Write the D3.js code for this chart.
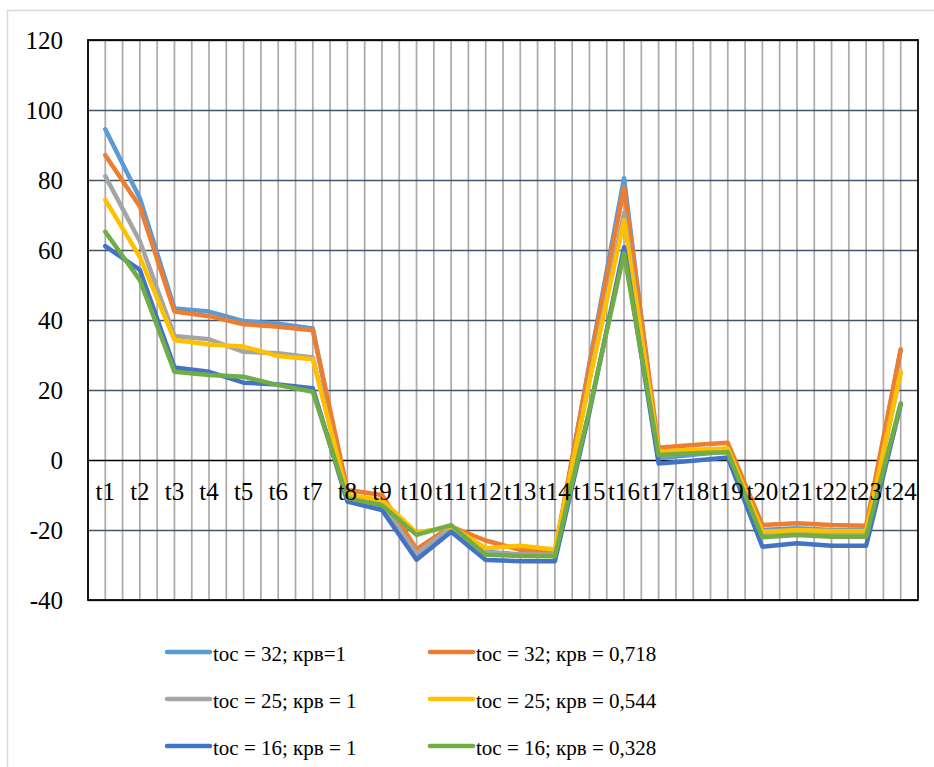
<!DOCTYPE html>
<html>
<head>
<meta charset="utf-8">
<script src="https://cdn.jsdelivr.net/npm/d3@7"></script>
<style>
  body { margin: 0; background: #fff; font-family: 'Liberation Serif', serif; }
  svg text { font-family: 'Liberation Serif', serif !important; }
  #fontwarm { position: absolute; left: 0; top: 0; font-size: 2px; color: #fff; }
</style>
</head>
<body>
<div id="fontwarm">toc крв t10</div>
<div id="chart"></div>
<script>
w = 934;			// page width
h = 767;			// page height
left = 88;			// plot area
top_ = 40;
right = 918;
bottom = 600;
fontName = "'Liberation Serif'";

// categories along x
categories = ['t1','t2','t3','t4','t5','t6','t7','t8','t9','t10','t11','t12',
              't13','t14','t15','t16','t17','t18','t19','t20','t21','t22','t23','t24'];

yTicks = [-40, -20, 0, 20, 40, 60, 80, 100, 120];

// series values
s32_1 = [94.5, 74.8, 43.3, 42.4, 39.7, 38.9, 37.6, -10.5, -13, -27.5, -19.5, -26.2,
         -27, -27.2, 27.5, 80.5, 0.5, 1.5, 2.5, -20, -19.5, -20, -20, 31.5];
s32_0718 = [87.1, 72.4, 42.4, 41.1, 38.8, 38.1, 37.1, -8.6, -10, -25.5, -19, -23,
            -25.7, -26.2, 27, 77.8, 3.5, 4.3, 4.9, -18.6, -18.1, -18.6, -18.8, 31.6];
s25_1 = [81.1, 62.5, 35.4, 34.5, 30.9, 30.5, 29.3, -10.3, -12.5, -26.7, -19.3, -26.5,
         -27, -27, 23, 70.6, 1.2, 2.2, 3, -21, -20.5, -21, -21, 25];
s25_0544 = [74.3, 58, 34.3, 33.0, 32.4, 29.7, 28.8, -10, -11.4, -20.8, -19, -25.2,
            -24.5, -25.6, 22.5, 68.5, 2.4, 2.9, 3.3, -20.5, -20, -20.3, -20.3, 25.2];
s16_1 = [61.1, 54.3, 26.4, 25.2, 22.1, 21.6, 20.5, -11.9, -14.3, -28.5, -20.5, -28.6,
         -28.9, -28.9, 13.7, 60.8, -1, -0.2, 0.7, -24.8, -23.8, -24.5, -24.5, 15.8];
s16_0328 = [65.2, 51.4, 25.2, 24.3, 23.8, 21.4, 19.5, -10.9, -12.9, -21.4, -18.6, -27.1,
            -27.4, -27.5, 14.5, 59, 1.4, 1.9, 2.2, -22.1, -21.4, -21.9, -21.9, 16.2];

seriesNames = ['toc = 32; крв=1', 'toc = 32; крв = 0,718', 'toc = 25; крв = 1',
               'toc = 25; крв = 0,544', 'toc = 16; крв = 1', 'toc = 16; крв = 0,328'];
seriesValues = [s32_1, s32_0718, s25_1, s25_0544, s16_1, s16_0328];
seriesColors = ['#5B9BD5', '#ED7D31', '#A5A5A5', '#FFC000', '#4472C4', '#70AD47'];

var svg = d3.select("#chart").append("svg")
	.attr("width", w)
	.attr("height", h)
	.style("font-family", fontName);

// outer chart frame (runs off the right and bottom)
svg.append("rect")
	.attr("x", 7.5).attr("y", 10.5)
	.attr("width", w).attr("height", h + 50)
	.attr("fill", "none")
	.attr("stroke", "#d9d9d9")
	.attr("stroke-width", 1.5);

xScale = d3.scaleBand()
	.domain(categories)
	.range([left, right])
	.padding(0);
bw = xScale.bandwidth();

yScale = d3.scaleLinear()
	.domain([-40, 120])
	.range([bottom, top_]);

// vertical grid: band edges and band centres
var vgrid = [];
categories.forEach(function(c) { vgrid.push(xScale(c)); vgrid.push(xScale(c) + bw / 2); });
svg.append("g").selectAll("line").data(vgrid).enter()
	.append("line")
	.attr("x1", function(d) { return d; })
	.attr("x2", function(d) { return d; })
	.attr("y1", top_).attr("y2", bottom)
	.attr("stroke", "#aeabab")
	.attr("stroke-width", 1.75);

// horizontal grid + y labels
yAxis = d3.axisLeft(yScale)
	.tickValues(yTicks)
	.tickFormat(function(d) { return String(d); })
	.tickSize(-(right - left))
	.tickPadding(25);
yAxisG = svg.append("g")
	.attr("transform", "translate(" + left + ",0)")
	.call(yAxis)
	.attr("font-family", null)
	.attr("font-size", null);
yAxisG.select(".domain").remove();
yAxisG.selectAll(".tick line")
	.attr("stroke", function(d) { return d === 0 ? "#000" : "#44546A"; })
	.attr("stroke-width", 1.5);
yAxisG.selectAll(".tick text")
	.style("font-family", fontName)
	.style("font-size", "25px")
	.attr("fill", "#000")
	.attr("dy", "0.32em");

// plot border
svg.append("rect")
	.attr("x", left).attr("y", top_)
	.attr("width", right - left).attr("height", bottom - top_)
	.attr("fill", "none")
	.attr("stroke", "#000")
	.attr("stroke-width", 1.75);

var line = d3.line()
	.x(function(d, i) { return xScale(categories[i]) + bw / 2; })
	.y(function(d) { return yScale(d); });

svg.append("g").selectAll("path").data(seriesValues).enter()
	.append("path")
	.attr("d", line)
	.attr("fill", "none")
	.attr("stroke", function(d, i) { return seriesColors[i]; })
	.attr("stroke-width", 4.5)
	.attr("stroke-linejoin", "round")
	.attr("stroke-linecap", "round");

// category labels sit under the zero line, drawn over the series
svg.append("g").selectAll("text").data(categories).enter()
	.append("text")
	.attr("x", function(d) { return xScale(d) + bw / 2; })
	.attr("y", yScale(0) + 40)
	.attr("text-anchor", "middle")
	.style("font-family", fontName)
	.style("font-size", "25px")
	.text(function(d) { return d; });

// legend, two columns
var legend = svg.append("g").selectAll("g").data(seriesNames).enter()
	.append("g")
	.attr("transform", function(d, i) {
		return "translate(" + (i % 2 === 0 ? 167 : 430) + "," + (652 + Math.floor(i / 2) * 47) + ")";
	});
legend.append("line")
	.attr("x1", 0).attr("x2", 43)
	.attr("stroke", function(d, i) { return seriesColors[i]; })
	.attr("stroke-width", 4.5)
	.attr("stroke-linecap", "round");
legend.append("text")
	.attr("x", 46)
	.attr("y", 9)
	.style("font-family", fontName)
	.style("font-size", "21px")
	.text(function(d) { return d; });
</script>
</body>
</html>
